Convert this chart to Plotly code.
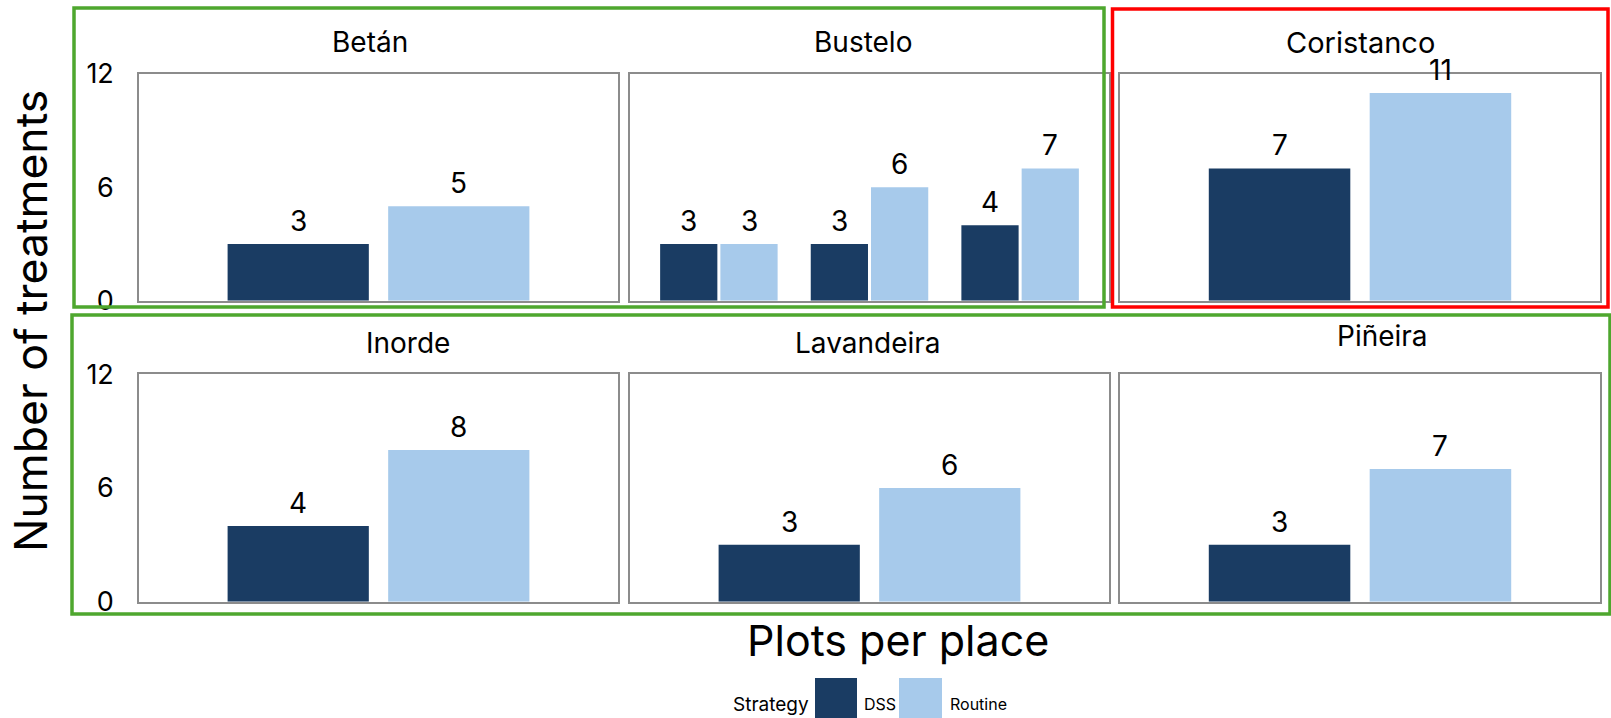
import plotly.graph_objects as go

# Treatments per plot, by place and strategy
places = ["Betán", "Bustelo", "Coristanco", "Inorde", "Lavandeira", "Piñeira"]
dss_counts = [[3], [3, 3, 4], [7], [4], [3], [3]]
routine_counts = [[5], [3, 6, 7], [11], [8], [6], [7]]
strategies = ["DSS", "Routine"]
y_ticks = [0, 6, 12]

DSS_COLOR = "#1A3C63"
ROUTINE_COLOR = "#A7CAEB"
FRAME = "#8C8C8C"
FONT = "Inter, Liberation Sans, Arial, sans-serif"

W, H = 1611, 718


def px_x(v):
    return v / W


def px_y(v):
    return 1 - v / H


# panel grid (pixel edges of each plotting box)
col_edges = [(139, 618), (630, 1109), (1120, 1600)]
row_edges = [(74, 300.7), (374.3, 601.7)]

fig = go.Figure()
annotations = []

for k, place in enumerate(places):
    r, c = divmod(k, 3)
    ax = "" if k == 0 else str(k + 1)
    xa, ya = "x" + ax, "y" + ax
    n = len(dss_counts[k])
    groups = list(range(n))
    half_gap = 0.01 if n > 1 else 0.025
    slot = 0.39
    width = slot - half_gap
    centre = (slot + half_gap) / 2

    fig.add_trace(go.Bar(
        x=groups, y=dss_counts[k], name=strategies[0],
        marker=dict(color=DSS_COLOR, line=dict(width=0)),
        width=width, offset=-slot, xaxis=xa, yaxis=ya, showlegend=False,
    ))
    fig.add_trace(go.Bar(
        x=groups, y=routine_counts[k], name=strategies[1],
        marker=dict(color=ROUTINE_COLOR, line=dict(width=0)),
        width=width, offset=half_gap, xaxis=xa, yaxis=ya, showlegend=False,
    ))

    # value labels above the bars
    for g, (d, rt) in enumerate(zip(dss_counts[k], routine_counts[k])):
        for val, sign in ((d, -1), (rt, 1)):
            annotations.append(dict(
                x=g + sign * centre, y=val, xref=xa, yref=ya,
                text=str(val), showarrow=False, yanchor="bottom",
                yshift=4, font=dict(size=28, color="black", family=FONT),
            ))

    x0, x1 = col_edges[c]
    y0, y1 = row_edges[r]
    span = 0.59 if n > 1 else 0.619
    fig.layout["xaxis" + ax] = dict(
        domain=[px_x(x0), px_x(x1)], anchor=ya, automargin=False,
        range=[-span, (n - 1) + span], showticklabels=False, ticks="",
        showgrid=False, zeroline=False, showline=True, mirror=True,
        linecolor=FRAME, linewidth=1.5, fixedrange=True,
    )
    fig.layout["yaxis" + ax] = dict(
        domain=[px_y(y1), px_y(y0)], anchor=xa, automargin=False,
        range=[0, 12], tickvals=y_ticks, showticklabels=(c == 0),
        ticks="", ticklabelstandoff=18, showgrid=False, zeroline=False,
        showline=True, mirror=True, linecolor=FRAME, linewidth=1.5,
        tickfont=dict(size=27, color="black", family=FONT), fixedrange=True,
    )

# place names above each panel
title_pos = [(370, 42, 28), (863, 42, 28), (1360, 42, 29),
             (408, 343, 28), (868, 343, 28), (1382, 336, 28)]
for place, (tx, ty, ts) in zip(places, title_pos):
    annotations.append(dict(
        x=px_x(tx), y=px_y(ty), xref="paper", yref="paper", text=place,
        showarrow=False, xanchor="center", yanchor="middle",
        font=dict(size=ts, color="black", family=FONT),
    ))

# axis titles
annotations.append(dict(
    x=px_x(31), y=px_y(321), xref="paper", yref="paper",
    text="Number of treatments", textangle=-90, showarrow=False,
    xanchor="center", yanchor="middle",
    font=dict(size=44.5, color="black", family=FONT),
))
annotations.append(dict(
    x=px_x(898), y=px_y(640), xref="paper", yref="paper",
    text="Plots per place", showarrow=False, xanchor="center", yanchor="middle",
    font=dict(size=43, color="black", family=FONT),
))

# legend
annotations.append(dict(
    x=px_x(771), y=px_y(704), xref="paper", yref="paper", text="Strategy",
    showarrow=False, xanchor="center", yanchor="middle",
    font=dict(size=19, color="black", family=FONT),
))
annotations.append(dict(
    x=px_x(880), y=px_y(704), xref="paper", yref="paper", text=strategies[0],
    showarrow=False, xanchor="center", yanchor="middle",
    font=dict(size=16, color="black", family=FONT),
))
annotations.append(dict(
    x=px_x(978), y=px_y(704), xref="paper", yref="paper", text=strategies[1],
    showarrow=False, xanchor="center", yanchor="middle",
    font=dict(size=16, color="black", family=FONT),
))

shapes = [
    # legend keys
    dict(type="rect", xref="paper", yref="paper", x0=px_x(815), x1=px_x(857),
         y0=px_y(722), y1=px_y(678), fillcolor=DSS_COLOR, line=dict(width=0)),
    dict(type="rect", xref="paper", yref="paper", x0=px_x(899), x1=px_x(942),
         y0=px_y(722), y1=px_y(678), fillcolor=ROUTINE_COLOR, line=dict(width=0)),
    # highlight frames around panel groups
    dict(type="rect", xref="paper", yref="paper", x0=px_x(74), x1=px_x(1104),
         y0=px_y(307), y1=px_y(8), line=dict(color="#4EA72E", width=3.5)),
    dict(type="rect", xref="paper", yref="paper", x0=px_x(1112.5), x1=px_x(1608),
         y0=px_y(307), y1=px_y(9), line=dict(color="#FF0000", width=3.5)),
    dict(type="rect", xref="paper", yref="paper", x0=px_x(72), x1=px_x(1610),
         y0=px_y(614), y1=px_y(315), line=dict(color="#4EA72E", width=3.5)),
]

fig.update_layout(
    width=W, height=H, margin=dict(l=0, r=0, t=0, b=0, autoexpand=False),
    paper_bgcolor="white", plot_bgcolor="white",
    barmode="overlay", showlegend=False,
    annotations=annotations, shapes=shapes,
    font=dict(family=FONT, color="black"),
)

fig.write_html("out.html", config={"displayModeBar": False})
